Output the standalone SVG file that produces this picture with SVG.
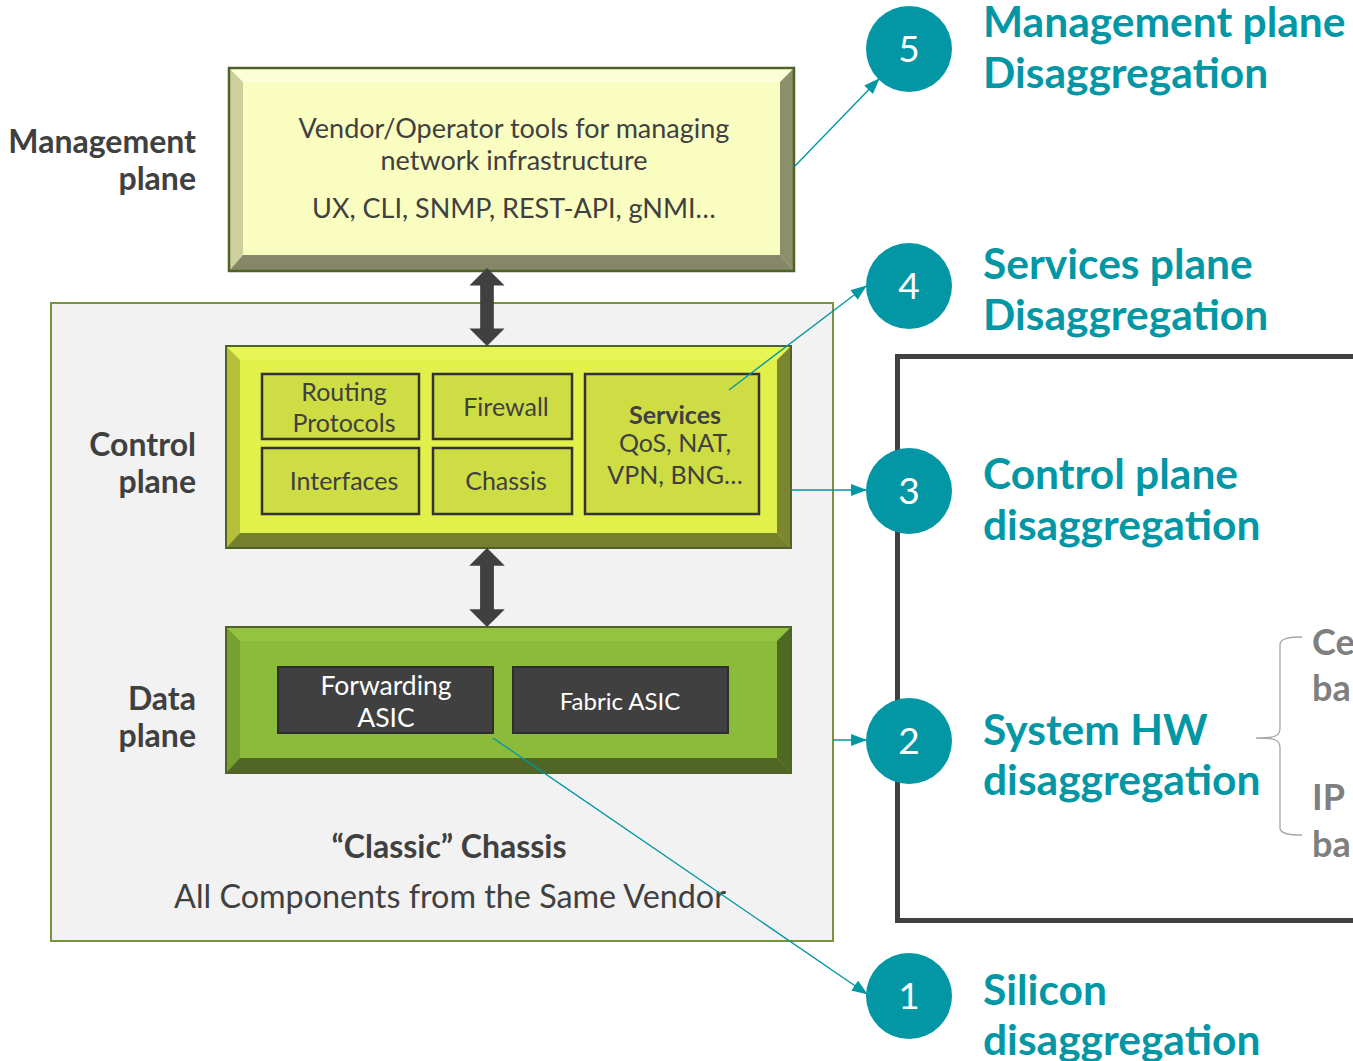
<svg xmlns="http://www.w3.org/2000/svg" width="1353" height="1061" viewBox="0 0 1353 1061">
<defs>
<style>
text{font-family:Lato,"Open Sans","Liberation Sans",sans-serif}
.lbl{font-size:32px;font-weight:bold;fill:#404040;text-anchor:end}
.inner{fill:#CFDD45;stroke:#333333;stroke-width:2.5}
.innert{font-size:25px;fill:#404040;text-anchor:middle}
.asic{fill:#404040;stroke:#2E2E2E;stroke-width:2}
.asict{font-size:26.5px;fill:#FFFFFF;text-anchor:middle}
.circ{fill:#0397A5}
.num{font-size:37px;fill:#FFFFFF;text-anchor:middle}
.tl{font-size:42.5px;font-weight:bold;fill:#0397A5}
.con{stroke:#0397A5;stroke-width:1.4;fill:none}
.gray{font-size:36px;font-weight:bold;fill:#7F7F7F}
.mt{font-size:27px;fill:#404040;text-anchor:middle}
</style>
<marker id="ah" markerWidth="16" markerHeight="12" refX="15" refY="6" orient="auto" markerUnits="userSpaceOnUse">
<path d="M0,0 L16,6 L0,12 Z" fill="#0397A5"/>
</marker>
<symbol id="dbl" viewBox="0 0 36 80" overflow="visible">
<path d="M18,0 L36,18 L25,18 L25,62 L36,62 L18,80 L0,62 L11,62 L11,18 L0,18 Z"/>
</symbol>
</defs>
<rect width="1353" height="1061" fill="#FFFFFF"/>

<g id="right-frame">
<rect x="897.5" y="356.5" width="470" height="564" fill="#FFFFFF" stroke="#404040" stroke-width="5"/>
</g>

<g id="chassis">
<rect x="51" y="303" width="782" height="638" fill="#F2F2F2" stroke="#77933C" stroke-width="2"/>
<text x="449" y="858" text-anchor="middle" font-size="32" font-weight="bold" fill="#404040">“Classic” Chassis</text>
<text x="450" y="908" text-anchor="middle" font-size="32.3" fill="#404040">All Components from the Same Vendor</text>
</g>

<g id="mgmt">
<rect x="229" y="68" width="565" height="203" fill="#FAFDC0"/>
<polygon points="229,68 794,68 780,82 243,82" fill="#FCFEDA"/>
<polygon points="229,68 243,82 243,255 229,271" fill="#CDD09D"/>
<polygon points="794,68 794,271 780,255 780,82" fill="#8B8F6A"/>
<polygon points="229,271 794,271 780,255 243,255" fill="#858868"/>
<rect x="229" y="68" width="565" height="203" fill="none" stroke="#4F6228" stroke-width="2.5"/>
<text class="mt" x="514" y="138">Vendor/Operator tools for managing</text>
<text class="mt" x="514" y="170">network infrastructure</text>
<text class="mt" x="514" y="218">UX, CLI, SNMP, REST-API, gNMI…</text>
</g>
<text class="lbl" x="196" y="153">Management</text>
<text class="lbl" x="196" y="190">plane</text>

<g id="control">
<rect x="226" y="346" width="565" height="202" fill="#E2F04B"/>
<polygon points="226,346 791,346 777,360 240,360" fill="#E5F556"/>
<polygon points="226,346 240,360 240,533 226,548" fill="#B5C03A"/>
<polygon points="791,346 791,548 777,533 777,360" fill="#7C8630"/>
<polygon points="226,548 791,548 777,533 240,533" fill="#75802D"/>
<rect x="226" y="346" width="565" height="202" fill="none" stroke="#4F6228" stroke-width="2"/>
<g id="routing"><rect class="inner" x="262" y="374" width="157" height="65"/><text class="innert" x="344" y="401">Routing</text><text class="innert" x="344" y="432">Protocols</text></g>
<g id="firewall"><rect class="inner" x="433" y="374" width="139" height="65"/><text class="innert" x="506" y="416">Firewall</text></g>
<g id="interfaces"><rect class="inner" x="262" y="448" width="157" height="66"/><text class="innert" x="344" y="490">Interfaces</text></g>
<g id="chassis-mod"><rect class="inner" x="433" y="448" width="139" height="66"/><text class="innert" x="506" y="490">Chassis</text></g>
<g id="services"><rect class="inner" x="585" y="374" width="174" height="140"/>
<text class="innert" x="675" y="424" font-weight="bold">Services</text>
<text class="innert" x="675" y="452">QoS, NAT,</text>
<text class="innert" x="675" y="484">VPN, BNG…</text></g>
</g>
<text class="lbl" x="196" y="456">Control</text>
<text class="lbl" x="196" y="493">plane</text>

<g id="data">
<rect x="226" y="627" width="565" height="146" fill="#8CBB3C"/>
<polygon points="226,627 791,627 777,641 240,641" fill="#93C33F"/>
<polygon points="226,627 240,641 240,758 226,773" fill="#76A02F"/>
<polygon points="791,627 791,773 777,758 777,641" fill="#4E6A22"/>
<polygon points="226,773 791,773 777,758 240,758" fill="#4F6625"/>
<rect x="226" y="627" width="565" height="146" fill="none" stroke="#4F6228" stroke-width="2"/>
<g id="fwd-asic"><rect class="asic" x="278" y="667" width="215" height="66"/><text class="asict" x="386" y="695">Forwarding</text><text class="asict" x="386" y="727">ASIC</text></g>
<g id="fabric-asic"><rect class="asic" x="513" y="667" width="215" height="66"/><text class="asict" x="620" y="710" style="font-size:24px">Fabric ASIC</text></g>
</g>
<text class="lbl" x="196" y="710">Data</text>
<text class="lbl" x="196" y="747">plane</text>

<g id="arrows-bidir" fill="#404040">
<use href="#dbl" x="469" y="268" width="36" height="78"/>
<use href="#dbl" x="469" y="548" width="36" height="79"/>
</g>

<g id="brace">
<path d="M1302,637 C1290,637 1280,638 1280,645 L1280,728 C1280,736 1276,738 1256,738 C1276,738 1280,740 1280,748 L1280,828 C1280,834 1290,835 1302,835" fill="none" stroke="#A6A6A6" stroke-width="1.3"/>
<text class="gray" x="1312" y="655">Ce</text>
<text class="gray" x="1312" y="701">ba</text>
<text class="gray" x="1312" y="810">IP</text>
<text class="gray" x="1312" y="857">ba</text>
</g>

<g id="connectors">
<line class="con" x1="794" y1="167" x2="879" y2="79" marker-end="url(#ah)"/>
<line class="con" x1="729" y1="390" x2="866" y2="286" marker-end="url(#ah)"/>
<line class="con" x1="791" y1="490" x2="866" y2="490" marker-end="url(#ah)"/>
<line class="con" x1="833" y1="740" x2="866" y2="740" marker-end="url(#ah)"/>
<line class="con" x1="493" y1="738" x2="867" y2="994" marker-end="url(#ah)"/>
</g>

<g id="step5"><circle class="circ" cx="909" cy="49" r="43"/><text class="num" x="909" y="62">5</text>
<text class="tl" x="983" y="37">Management plane</text><text class="tl" x="983" y="88">Disaggregation</text></g>
<g id="step4"><circle class="circ" cx="909" cy="286" r="43"/><text class="num" x="909" y="299">4</text>
<text class="tl" x="983" y="279">Services plane</text><text class="tl" x="983" y="330">Disaggregation</text></g>
<g id="step3"><circle class="circ" cx="909" cy="491" r="43"/><text class="num" x="909" y="504">3</text>
<text class="tl" x="983" y="489">Control plane</text><text class="tl" x="983" y="540">disaggregation</text></g>
<g id="step2"><circle class="circ" cx="909" cy="741" r="43"/><text class="num" x="909" y="754">2</text>
<text class="tl" x="983" y="745">System HW</text><text class="tl" x="983" y="795">disaggregation</text></g>
<g id="step1"><circle class="circ" cx="909" cy="996" r="43"/><text class="num" x="909" y="1009">1</text>
<text class="tl" x="983" y="1005">Silicon</text><text class="tl" x="983" y="1055">disaggregation</text></g>
</svg>
